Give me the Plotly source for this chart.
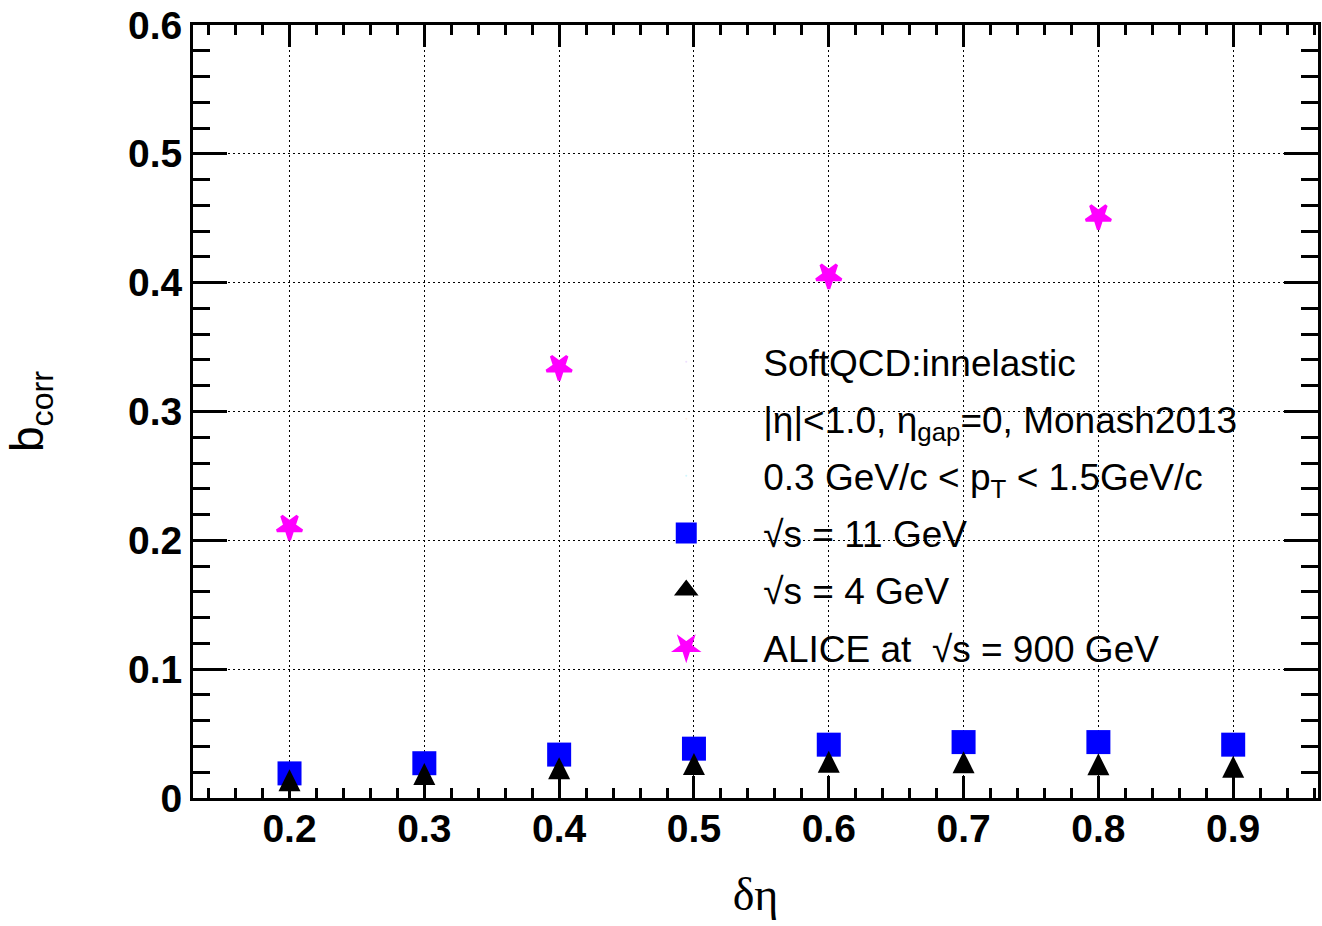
import plotly.graph_objects as go

# ---- data ----
deta = [0.2, 0.3, 0.4, 0.5, 0.6, 0.7, 0.8, 0.9]
bcorr_11gev = [0.0191, 0.0270, 0.0337, 0.0383, 0.0414, 0.0434, 0.0434, 0.0414]
bcorr_4gev = [0.0138, 0.0187, 0.0231, 0.0263, 0.0281, 0.0278, 0.0262, 0.0243]
deta_alice = [0.2, 0.4, 0.6, 0.8]
bcorr_alice = [0.2106, 0.3346, 0.4055, 0.4516]

x_tick_vals = [0.2, 0.3, 0.4, 0.5, 0.6, 0.7, 0.8, 0.9]
x_tick_text = ["0.2", "0.3", "0.4", "0.5", "0.6", "0.7", "0.8", "0.9"]
y_tick_vals = [0.0, 0.1, 0.2, 0.3, 0.4, 0.5, 0.6]
y_tick_text = ["0", "0.1", "0.2", "0.3", "0.4", "0.5", "0.6"]

header_lines = [
    "SoftQCD:innelastic",
    "|η|&lt;1.0, η<sub>gap</sub>=0, Monash2013",
    "0.3 GeV/c &lt; p<sub>T</sub> &lt; 1.5GeV/c",
]
name_11 = "√s = 11 GeV"
name_4 = "√s = 4 GeV"
name_alice = "ALICE at  √s = 900 GeV"

BLUE = "#0000ff"
MAGENTA = "#ff00ff"
SANS = "Liberation Sans, Arial, sans-serif"
SERIF = "Liberation Serif, Times New Roman, serif"

fig = go.Figure()

# data traces
fig.add_trace(go.Scatter(x=deta, y=bcorr_11gev, mode="markers", showlegend=False,
                         marker=dict(symbol="square", size=24, color=BLUE, line=dict(width=0))))
fig.add_trace(go.Scatter(x=deta, y=bcorr_4gev, mode="markers", showlegend=False,
                         marker=dict(symbol="arrow-down", angle=180, standoff=11, size=22,
                                     color="black", line=dict(width=0))))
fig.add_trace(go.Scatter(x=deta_alice, y=bcorr_alice, mode="markers", showlegend=False,
                         marker=dict(symbol="star", angle=180, size=19, color=MAGENTA,
                                     line=dict(width=3, color=MAGENTA))))

# legend entries (header text lines + symbols)
for i, line in enumerate(header_lines):
    fig.add_trace(go.Scatter(x=[None], y=[None], mode="markers", name=line,
                             legendgroup="h%d" % i,
                             marker=dict(size=2, opacity=0)))
fig.add_trace(go.Scatter(x=[None], y=[None], mode="markers", name=name_11, legendgroup="s11",
                         marker=dict(symbol="square", size=16, color=BLUE,
                                     line=dict(width=5, color=BLUE))))
fig.add_trace(go.Scatter(x=[None], y=[None], mode="markers", name=name_4, legendgroup="s4",
                         marker=dict(symbol="triangle-up", size=16, color="black",
                                     line=dict(width=3, color="black"))))
fig.add_trace(go.Scatter(x=[None], y=[None], mode="markers", name=name_alice, legendgroup="al",
                         marker=dict(symbol="star", angle=180, size=16, color=MAGENTA,
                                     line=dict(width=3, color=MAGENTA))))

axis_common = dict(
    showline=True, linewidth=3, linecolor="black", mirror="allticks",
    ticks="inside", tickwidth=3, tickcolor="black",
    showgrid=True, gridcolor="black", gridwidth=1, griddash="2px,3px",
    zeroline=False,
    tickfont=dict(family=SANS, size=39, color="black", weight="bold"),
)

fig.update_xaxes(
    **axis_common,
    range=[0.1284, 0.9629],
    tickmode="array", tickvals=x_tick_vals, ticktext=x_tick_text,
    ticklen=22, ticklabelstandoff=-6,
    minor=dict(dtick=0.02, tick0=0, ticks="inside", ticklen=10, tickwidth=3,
               tickcolor="black", showgrid=False),
    title=dict(text="δη", font=dict(family=SERIF, size=46, color="black"), standoff=30),
)
fig.update_yaxes(
    **axis_common,
    range=[0, 0.6],
    tickmode="array", tickvals=y_tick_vals, ticktext=y_tick_text,
    ticklen=34,
    minor=dict(dtick=0.02, tick0=0, ticks="inside", ticklen=17, tickwidth=3,
               tickcolor="black", showgrid=False),
    title=dict(text="b<sub>corr</sub>", font=dict(family=SANS, size=46, color="black"), standoff=70),
)

fig.update_layout(
    width=1322, height=926,
    margin=dict(l=193, r=4, t=25, b=128, autoexpand=False),
    plot_bgcolor="white", paper_bgcolor="white",
    legend=dict(
        x=0.37, y=0.604, xanchor="left", yanchor="top",
        bgcolor="rgba(0,0,0,0)", borderwidth=0,
        font=dict(family=SANS, size=37, color="black"),
        itemwidth=144, tracegroupgap=6, traceorder="grouped",
        itemclick=False, itemdoubleclick=False,
    ),
)

fig.write_html("out.html")
